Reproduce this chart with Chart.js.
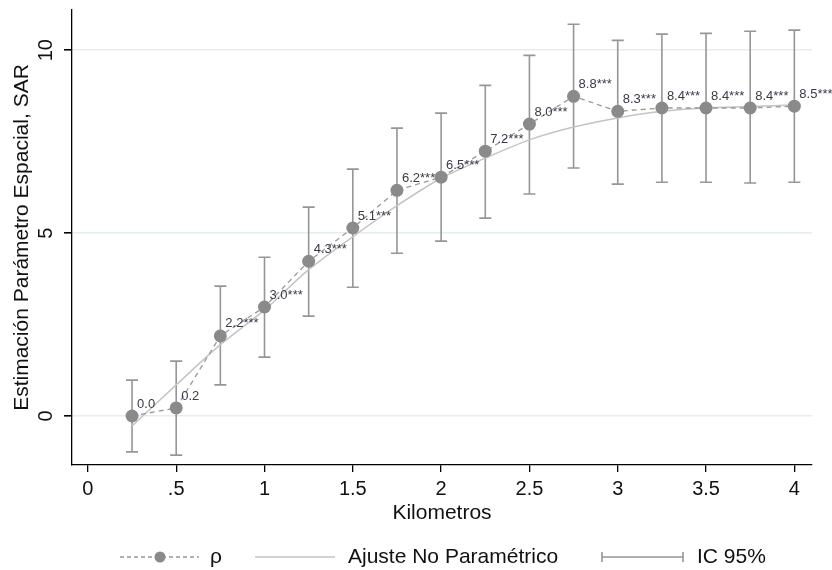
<!DOCTYPE html>
<html>
<head>
<meta charset="utf-8">
<script src="https://cdn.jsdelivr.net/npm/chart.js@4"></script>
<style>
  body { margin: 0; background: #fff; }
  #wrap { width: 832px; height: 570px; }
</style>
</head>
<body>
<div id="wrap"><canvas id="sarChart" width="832" height="570"></canvas></div>
<script>
// distance bands (km)
const km = [0.25, 0.5, 0.75, 1, 1.25, 1.5, 1.75, 2, 2.25, 2.5, 2.75, 3, 3.25, 3.5, 3.75, 4];
// rho estimates
const rho = [0.0, 0.22, 2.19, 2.98, 4.23, 5.14, 6.17, 6.53, 7.24, 7.98, 8.74, 8.33, 8.42, 8.42, 8.42, 8.47];
// labels shown next to each point
const rhoLabels = ['0.0', '0.2', '2.2***', '3.0***', '4.3***', '5.1***', '6.2***', '6.5***', '7.2***', '8.0***', '8.8***', '8.3***', '8.4***', '8.4***', '8.4***', '8.5***'];
// 95% confidence interval
const ciLow = [-0.98, -1.07, 0.85, 1.61, 2.73, 3.52, 4.45, 4.78, 5.41, 6.07, 6.78, 6.34, 6.39, 6.39, 6.37, 6.39];
const ciHigh = [0.98, 1.5, 3.55, 4.34, 5.71, 6.75, 7.87, 8.28, 9.04, 9.86, 10.71, 10.27, 10.44, 10.46, 10.52, 10.55];
// non parametric fit
const fit = [-0.27, 0.85, 1.95, 2.9, 4.0, 4.9, 5.75, 6.5, 7.05, 7.55, 7.9, 8.15, 8.33, 8.42, 8.46, 8.5];

const yTicks = [0, 5, 10];
const xTicks = [0, 0.5, 1, 1.5, 2, 2.5, 3, 3.5, 4];

const FONT = "'Liberation Sans', Arial, sans-serif";
const ptColor = '#8a8a8a';
const barColor = '#969696';

function xLabel(v) {
  if (v === 0) return '0';
  let s = String(v);
  return s.startsWith('0.') ? s.slice(1) : s;
}

// error bars behind the points
const errorBars = {
  id: 'errorBars',
  beforeDatasetsDraw(chart) {
    const ctx = chart.ctx;
    const xs = chart.scales.x, ys = chart.scales.y;
    ctx.save();
    ctx.strokeStyle = barColor;
    ctx.lineWidth = 1.6;
    km.forEach((k, i) => {
      const px = xs.getPixelForValue(k);
      const lo = ys.getPixelForValue(ciLow[i]);
      const hi = ys.getPixelForValue(ciHigh[i]);
      ctx.beginPath();
      ctx.moveTo(px, lo); ctx.lineTo(px, hi);
      ctx.moveTo(px - 6, lo); ctx.lineTo(px + 6, lo);
      ctx.moveTo(px - 6, hi); ctx.lineTo(px + 6, hi);
      ctx.stroke();
    });
    ctx.restore();
  }
};

// point labels, rotated y ticks and legend
const extras = {
  id: 'extras',
  afterDraw(chart) {
    const ctx = chart.ctx;
    const xs = chart.scales.x, ys = chart.scales.y;
    ctx.save();
    ctx.font = '13px ' + FONT;
    ctx.fillStyle = '#3a3a48';
    ctx.textAlign = 'left';
    ctx.textBaseline = 'middle';
    km.forEach((k, i) => {
      ctx.fillText(rhoLabels[i], xs.getPixelForValue(k) + 5, ys.getPixelForValue(rho[i]) - 12);
    });

    // y tick labels, rotated like the original
    ctx.font = '20px ' + FONT;
    ctx.fillStyle = '#111';
    ctx.textAlign = 'center';
    yTicks.forEach(v => {
      ctx.save();
      ctx.translate(46, ys.getPixelForValue(v));
      ctx.rotate(-Math.PI / 2);
      ctx.fillText(String(v), 0, 0);
      ctx.restore();
    });

    // legend
    const ly = 557;
    ctx.strokeStyle = '#999';
    ctx.lineWidth = 1.3;
    ctx.setLineDash([4, 3]);
    ctx.beginPath(); ctx.moveTo(120, ly); ctx.lineTo(199, ly); ctx.stroke();
    ctx.setLineDash([]);
    ctx.fillStyle = ptColor;
    ctx.beginPath(); ctx.arc(160, ly, 5.5, 0, Math.PI * 2); ctx.fill();

    ctx.strokeStyle = '#c4c4c4';
    ctx.lineWidth = 1.5;
    ctx.beginPath(); ctx.moveTo(255, ly); ctx.lineTo(335, ly); ctx.stroke();

    ctx.strokeStyle = barColor;
    ctx.lineWidth = 1.6;
    ctx.beginPath();
    ctx.moveTo(602, ly); ctx.lineTo(683, ly);
    ctx.moveTo(602, ly - 5); ctx.lineTo(602, ly + 5);
    ctx.moveTo(683, ly - 5); ctx.lineTo(683, ly + 5);
    ctx.stroke();

    ctx.font = '21px ' + FONT;
    ctx.fillStyle = '#111';
    ctx.textAlign = 'left';
    ctx.fillText('ρ', 210, ly);
    ctx.fillText('Ajuste No Paramétrico', 348, ly);
    ctx.fillText('IC 95%', 697, ly);
    ctx.restore();
  }
};

const ctx = document.getElementById('sarChart').getContext('2d');

const sarChart = new Chart(ctx, {
  type: 'scatter',
  data: {
    datasets: [
      {
        label: 'ρ',
        data: km.map((k, i) => ({ x: k, y: rho[i] })),
        showLine: true,
        borderColor: '#9a9a9a',
        borderWidth: 1.3,
        borderDash: [5, 4],
        pointRadius: 6.5,
        pointBackgroundColor: ptColor,
        pointBorderColor: ptColor,
        pointBorderWidth: 0,
        order: 0
      },
      {
        label: 'Ajuste No Paramétrico',
        data: km.map((k, i) => ({ x: k, y: fit[i] })),
        showLine: true,
        borderColor: '#c4c4c4',
        borderWidth: 1.5,
        pointRadius: 0,
        tension: 0.4,
        cubicInterpolationMode: 'monotone',
        order: 1
      }
    ]
  },
  options: {
    responsive: false,
    animation: false,
    layout: { padding: { top: 10, right: 20, bottom: 40, left: 0 } },
    plugins: {
      legend: { display: false },
      tooltip: { enabled: false }
    },
    scales: {
      x: {
        type: 'linear',
        min: -0.09,
        max: 4.1,
        afterBuildTicks: s => { s.ticks = xTicks.map(v => ({ value: v })); },
        afterFit: s => { s.height = 65; },
        border: { color: '#000', width: 1.3 },
        grid: { drawOnChartArea: false, tickLength: 7, tickColor: '#000', lineWidth: 1.3 },
        ticks: {
          font: { family: FONT, size: 20 },
          color: '#111',
          padding: 5,
          maxRotation: 0,
          callback: v => xLabel(v)
        },
        title: {
          display: true,
          text: 'Kilometros',
          font: { family: FONT, size: 21 },
          color: '#111',
          padding: { top: 0, bottom: 4 }
        }
      },
      y: {
        min: -1.34,
        max: 11.1,
        afterBuildTicks: s => { s.ticks = yTicks.map(v => ({ value: v })); },
        afterFit: s => { s.width = 72; },
        border: { color: '#000', width: 1.3 },
        grid: { color: '#e4eeee', lineWidth: 1.6, tickLength: 8, tickColor: '#000' },
        ticks: { display: false },
        title: {
          display: true,
          text: 'Estimación Parámetro Espacial, SAR',
          font: { family: FONT, size: 21 },
          color: '#111',
          padding: { top: 10, bottom: 0 }
        }
      }
    }
  },
  plugins: [errorBars, extras]
});
</script>
</body>
</html>
